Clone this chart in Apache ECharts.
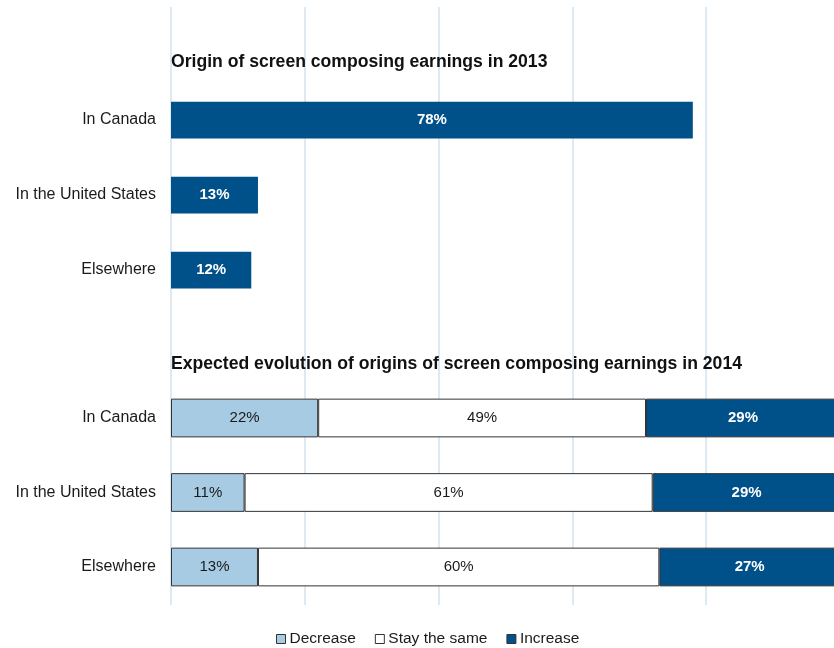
<!DOCTYPE html>
<html>
<head>
<meta charset="utf-8">
<script src="https://cdn.jsdelivr.net/npm/echarts@6/dist/echarts.min.js"></script>
<style>
  html, body { margin: 0; padding: 0; background: #fff; overflow: hidden; }
  /* the 100% end of the scale sits just past the right edge of the window */
  #chart { width: 840px; height: 648px; }
</style>
</head>
<body>
<div id="chart"></div>
<script>
// Where screen composing earnings came from in 2013
const originTitle = 'Origin of screen composing earnings in 2013';
const originCategories = ['In Canada', 'In the United States', 'Elsewhere'];
const originShares = [78, 13, 12];

// Expected change of each origin in 2014
const evolutionTitle = 'Expected evolution of origins of screen composing earnings in 2014';
const evolutionCategories = ['In Canada', 'In the United States', 'Elsewhere'];
const decreaseShares = [22, 11, 13];
const sameShares = [49, 61, 60];
const increaseShares = [29, 29, 27];

const xTicks = [0, 20, 40, 60, 80, 100];

const FONT = '"Liberation Sans", Arial, sans-serif';
const DARK = '#00508a';
const LIGHT = '#a7cbe2';
const GRID_LINE = '#d3e3ef';

const chart = echarts.init(document.getElementById('chart'), null, { renderer: 'canvas' });

const valueAxis = (gridIndex, showSplit) => ({
  type: 'value',
  gridIndex,
  min: xTicks[0],
  max: xTicks[xTicks.length - 1],
  interval: xTicks[1] - xTicks[0],
  axisLabel: { show: false },
  axisTick: { show: false },
  axisLine: { show: false },
  splitLine: { show: showSplit, lineStyle: { color: GRID_LINE, width: 1.5 } }
});

const catAxis = (gridIndex, data, show) => ({
  type: 'category',
  gridIndex,
  data,
  inverse: true,
  show,
  axisLine: { show: false },
  axisTick: { show: false },
  axisLabel: { margin: 15, fontSize: 16, color: '#1a1a1a', fontFamily: FONT }
});

const pctLabel = (color, weight) => ({
  show: true,
  position: 'inside',
  formatter: p => p.value + '%',
  color,
  fontWeight: weight,
  fontSize: 15,
  fontFamily: FONT
});

const stackedStyle = color => ({ color, borderColor: '#333', borderWidth: 1 });

const titleStyle = { fontSize: 17.6, fontWeight: 'bold', color: '#111', fontFamily: FONT };

chart.setOption({
  animation: false,
  backgroundColor: '#fff',
  title: [
    { text: originTitle, left: 171, top: 53.2, padding: 0, textStyle: titleStyle },
    { text: evolutionTitle, left: 171, top: 355.2, padding: 0, textStyle: titleStyle }
  ],
  legend: {
    data: ['Decrease', 'Stay the same', 'Increase'],
    top: 626,
    left: 271,
    icon: 'rect',
    itemWidth: 9,
    itemHeight: 9,
    itemGap: 19,
    textStyle: { fontSize: 15.5, color: '#1a1a1a', fontFamily: FONT, padding: [0, 0, 0, -1] },
    itemStyle: { borderColor: '#333', borderWidth: 1 }
  },
  grid: [
    { left: 171, right: 0, top: 7, bottom: 43 },
    { left: 171, right: 0, top: 82.5, height: 225 },
    { left: 171, right: 0, top: 380.75, height: 223.5 }
  ],
  xAxis: [valueAxis(0, true), valueAxis(1, false), valueAxis(2, false)],
  yAxis: [
    catAxis(0, [''], false),
    catAxis(1, originCategories, true),
    catAxis(2, evolutionCategories, true)
  ],
  series: [
    {
      name: 'Origin 2013', type: 'bar', xAxisIndex: 1, yAxisIndex: 1,
      data: originShares, barCategoryGap: '51%',
      itemStyle: { color: DARK },
      label: pctLabel('#fff', 'bold')
    },
    {
      name: 'Decrease', type: 'bar', stack: 'evo', xAxisIndex: 2, yAxisIndex: 2,
      data: decreaseShares, barCategoryGap: '48%',
      itemStyle: stackedStyle(LIGHT),
      label: pctLabel('#1a1a1a', 'normal')
    },
    {
      name: 'Stay the same', type: 'bar', stack: 'evo', xAxisIndex: 2, yAxisIndex: 2,
      data: sameShares, barCategoryGap: '48%',
      itemStyle: stackedStyle('#fff'),
      label: pctLabel('#1a1a1a', 'normal')
    },
    {
      name: 'Increase', type: 'bar', stack: 'evo', xAxisIndex: 2, yAxisIndex: 2,
      data: increaseShares, barCategoryGap: '48%',
      itemStyle: stackedStyle(DARK),
      label: pctLabel('#fff', 'bold')
    }
  ]
});
</script>
</body>
</html>
